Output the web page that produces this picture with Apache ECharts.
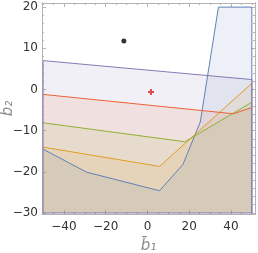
<!DOCTYPE html>
<html><head><meta charset="utf-8">
<script src="https://cdn.jsdelivr.net/npm/echarts@6/dist/echarts.min.js"></script>
<style>html,body{margin:0;padding:0;background:#fff}#c{width:258px;height:253px}</style>
</head><body><div id="c"></div>
<script>
// Region boundaries (b1, b2)
const purpleRegion = [[-50,7.0],[50,2.4],[50,-30],[-50,-30]];
const redRegion    = [[-50,-1.2],[41.1,-5.9],[50,-4.4],[50,-30],[-50,-30]];
const greenRegion  = [[-50,-8.1],[17.9,-12.7],[50,-3.1],[50,-30],[-50,-30]];
const orangeRegion = [[-50,-14.0],[5.8,-18.7],[50,1.5],[50,-30],[-50,-30]];
const blueRegion   = [[-50,-14.5],[-29.1,-20.1],[5.8,-24.6],[17.0,-18.2],[25.3,-7.9],[34.0,20],[50,20],[50,-30],[-50,-30]];
const blackPoint = [[-11.3, 11.8]];
const redPoint   = [[1.7, -0.6]];
const xMajor = [-40,-20,0,20,40];
const xMinor = [-50,-45,-35,-30,-25,-15,-10,-5,5,10,15,25,30,35,45,50];
const yMajor = [-30,-20,-10,0,10,20];
const yMinor = [-28,-26,-24,-22,-18,-16,-14,-12,-8,-6,-4,-2,2,4,6,8,12,14,16,18];
const xName = 'b\u0304\u2081';
const yName = 'b\u0304\u2082';

const C = {purple:'#8778B3', red:'#EB6235', green:'#8FB032', orange:'#E19C24', blue:'#5E81B5'};
const fillOp = 0.115;

function polySeries(pts, color, z) {
  return {
    type:'custom', xAxisIndex:0, yAxisIndex:0, z:z, silent:true,
    data:[0],
    renderItem:function(params, api){
      const p = pts.map(q => api.coord(q));
      return {type:'polygon', shape:{points:p}, style:{fill:color, opacity:fillOp, stroke:null}};
    }
  };
}
function edgeSeries(pts, n, color, z) {
  return {
    type:'custom', xAxisIndex:0, yAxisIndex:0, z:z, silent:true,
    data:[0],
    renderItem:function(params, api){
      const p = pts.slice(0, n).map(q => api.coord(q));
      return {type:'polyline', shape:{points:p}, style:{fill:null, stroke:color, lineWidth:1}};
    }
  };
}
const fmt = v => (v<0 ? '\u2212'+Math.abs(v) : ''+v);
const lineCol = '#b3b3b3';
const nameStyle = {color:'#8a8a8a', fontFamily:'DejaVu Sans', fontStyle:'italic', fontSize:15};
function xAx(pos, ticks, len, labels, name){
  const a = {type:'value', min:-50.5, max:51.5, position:pos,
    axisLine:{show:true, onZero:false, lineStyle:{color:lineCol, width:1}},
    axisTick:{show:true, inside:true, length:len, customValues:ticks, lineStyle:{color:lineCol}},
    axisLabel:{show:labels, customValues:ticks, formatter:fmt, color:'#333', fontSize:12, margin:7, fontFamily:'DejaVu Sans'},
    splitLine:{show:false}};
  if(name){a.name=name; a.nameLocation='middle'; a.nameGap=25; a.nameMoveOverlap=false; a.nameTextStyle=nameStyle;}
  return a;
}
function yAx(pos, ticks, len, labels, name){
  const a = {type:'value', min:-30.25, max:21, position:pos,
    axisLine:{show:true, onZero:false, lineStyle:{color:lineCol, width:1}},
    axisTick:{show:true, inside:true, length:len, customValues:ticks, lineStyle:{color:lineCol}},
    axisLabel:{show:labels, customValues:ticks, formatter:fmt, color:'#333', fontSize:12, margin:4, fontFamily:'DejaVu Sans'},
    splitLine:{show:false}};
  if(name){a.name=name; a.nameLocation='middle'; a.nameGap=26; a.nameRotate=90; a.nameMoveOverlap=false; a.nameTextStyle=nameStyle;}
  return a;
}

const chart = echarts.init(document.getElementById('c'));
chart.setOption({
  animation:false,
  grid:{left:42, right:3, top:3, bottom:39, containLabel:false, outerBoundsMode:'none'},
  xAxis:[
    xAx('bottom', xMajor, 4, true, xName),
    xAx('bottom', xMinor, 2, false),
    xAx('top', xMajor, 4, false),
    xAx('top', xMinor, 2, false)
  ],
  yAxis:[
    yAx('left', yMajor, 4, true, yName),
    yAx('left', yMinor, 2, false),
    yAx('right', yMajor, 4, false),
    yAx('right', yMinor, 2, false)
  ],
  series:[
    polySeries(purpleRegion, C.purple, 1),
    polySeries(redRegion, C.red, 1),
    polySeries(greenRegion, C.green, 1),
    polySeries(orangeRegion, C.orange, 1),
    polySeries(blueRegion, C.blue, 1),
    edgeSeries(blueRegion, 8, C.blue, 2),
    edgeSeries(orangeRegion, 3, C.orange, 2),
    edgeSeries(greenRegion, 3, C.green, 2),
    edgeSeries(redRegion, 3, C.red, 2),
    edgeSeries(purpleRegion.concat([purpleRegion[0]]), 5, C.purple, 3),
    {type:'scatter', data:blackPoint, symbol:'circle', symbolSize:5, itemStyle:{color:'#000'}, z:5, silent:true},
    {type:'scatter', data:redPoint, symbol:'path://M2,0H4V2H6V4H4V6H2V4H0V2H2Z', symbolSize:6, itemStyle:{color:'#e0202a'}, z:5, silent:true}
  ]
});
</script></body></html>
